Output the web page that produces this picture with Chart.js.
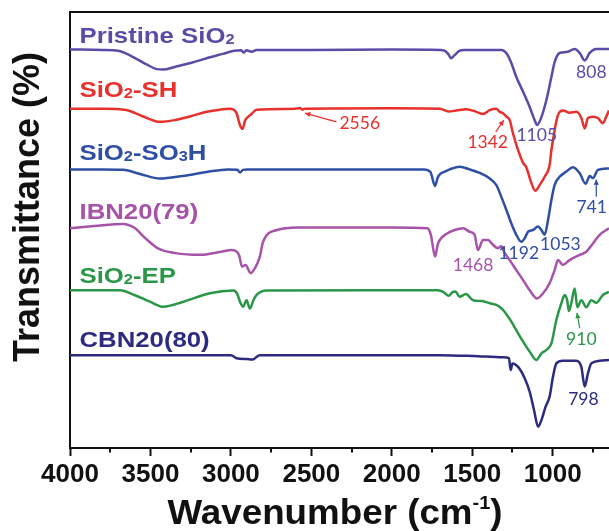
<!DOCTYPE html>
<html><head><meta charset="utf-8">
<script src="https://cdn.jsdelivr.net/npm/chart.js@4/dist/chart.umd.min.js"></script>
<style>html,body{margin:0;padding:0;background:#fff;overflow:hidden}</style>
</head><body>
<canvas id="c" width="609" height="531" style="display:block;width:609px;height:531px"></canvas>
<script>
// ---- data (wavenumber cm-1, transmittance a.u. with offsets as in figure) ----
const seriesNames = ['Pristine SiO_2', 'SiO_2-SH', 'SiO_2-SO_3H', 'IBN20(79)', 'SiO_2-EP', 'CBN20(80)'];

const pristineSiO2 = [[4000,91.4],[3800,91.3],[3700,91.1],[3620,89.9],[3540,88.3],[3460,86.9],[3420,86.8],[3350,87.4],[3250,88.3],[3150,89.4],[3050,90.4],[2980,91.1],[2935,91.2],[2920,90.7],[2905,91.2],[2870,90.9],[2840,91.3],[2500,91.3],[2000,91.4],[1700,91.3],[1670,91.1],[1650,90.4],[1632,89.4],[1610,90.1],[1580,91.1],[1550,91.3],[1319,91.3],[1288,90.6],[1257,88.3],[1226,85.1],[1184,81.7],[1143,78.2],[1112,75.2],[1097,74.1],[1070,75.9],[1039,79.8],[1008,85.1],[988,88.5],[957,90.6],[915,90.8],[863,91.5],[832,90.6],[801,88.9],[770,90.6],[729,91.5],[650,91.5]];

const sio2SH = [[4000,77.8],[3800,77.8],[3650,77.5],[3550,76.1],[3441,74.8],[3350,75.2],[3250,76.1],[3150,77.1],[3068,77.6],[3006,77.8],[2965,76.8],[2944,74.1],[2927,73.2],[2913,75.0],[2892,76.0],[2872,76.6],[2840,77.6],[2600,77.8],[2570,78.0],[2556,77.6],[2540,77.8],[2000,77.9],[1700,77.8],[1648,77.2],[1600,77.4],[1536,77.7],[1474,77.1],[1433,76.6],[1391,77.5],[1350,77.8],[1329,77.1],[1309,76.8],[1288,76.0],[1267,75.2],[1247,72.2],[1215,68.3],[1184,65.4],[1164,64.4],[1133,60.8],[1108,59.0],[1081,60.3],[1050,62.2],[1019,64.9],[1008,68.3],[988,72.9],[967,76.4],[936,77.4],[895,76.9],[853,77.1],[822,75.7],[801,73.3],[781,75.7],[750,76.0],[719,75.7],[688,74.5],[667,76.0],[650,77.4]];

const sio2SO3H = [[4000,63.9],[3800,63.9],[3671,63.8],[3560,62.8],[3442,61.8],[3300,62.4],[3150,63.3],[3018,63.9],[2960,63.8],[2942,63.2],[2925,63.8],[2900,63.9],[1800,63.9],[1760,63.3],[1731,60.1],[1715,62.0],[1700,62.8],[1671,63.4],[1640,63.9],[1578,64.5],[1516,63.9],[1454,63.1],[1391,61.8],[1350,60.3],[1319,57.6],[1288,54.6],[1257,51.5],[1226,48.9],[1195,47.3],[1174,48.1],[1153,49.6],[1122,50.0],[1091,50.8],[1070,50.0],[1050,48.9],[1029,52.3],[1008,56.9],[988,60.3],[957,62.2],[915,63.4],[874,64.4],[832,63.0],[795,60.6],[770,62.4],[750,61.9],[719,63.8],[650,64.1]];

const ibn20_79 = [[4000,50.4],[3850,50.9],[3671,51.4],[3600,50.5],[3540,48.4],[3453,45.8],[3344,44.7],[3192,44.3],[3062,45.0],[2996,45.4],[2950,44.3],[2931,41.6],[2909,42.0],[2877,40.1],[2850,41.3],[2820,43.9],[2801,47.2],[2714,50.0],[2583,50.6],[2000,50.6],[1779,50.4],[1757,48.9],[1731,43.9],[1715,46.6],[1702,47.7],[1661,49.1],[1609,50.0],[1557,50.4],[1516,49.6],[1485,48.9],[1465,45.4],[1433,47.7],[1402,47.7],[1371,46.6],[1340,45.8],[1320,46.3],[1298,44.7],[1267,43.1],[1226,40.8],[1184,38.5],[1143,36.2],[1097,34.3],[1060,35.5],[1019,37.8],[988,40.8],[967,43.1],[936,42.0],[895,43.1],[832,44.3],[791,45.0],[750,46.9],[708,48.9],[650,50.4]];

const sio2EP = [[4000,36.2],[3689,36.2],[3600,35.1],[3500,33.5],[3420,32.4],[3300,33.5],[3130,35.5],[2985,36.1],[2960,35.3],[2944,33.6],[2923,32.4],[2903,33.9],[2882,32.0],[2860,33.9],[2840,35.1],[2778,36.1],[2000,36.2],[1713,36.2],[1680,35.8],[1648,34.9],[1620,35.8],[1605,35.9],[1578,34.7],[1539,35.3],[1495,33.9],[1440,33.7],[1391,33.2],[1350,32.8],[1309,31.7],[1257,29.0],[1215,26.3],[1184,24.4],[1143,22.1],[1102,20.2],[1070,21.7],[1039,22.5],[1008,24.0],[977,29.4],[946,33.2],[925,35.1],[910,33.9],[899,31.4],[884,33.3],[863,36.6],[847,32.3],[822,33.9],[791,32.3],[760,33.9],[729,33.3],[688,35.1],[650,35.8]];

const cbn20_80 = [[4000,21.3],[3000,21.3],[2964,20.6],[2900,20.4],[2866,20.3],[2822,21.3],[1700,21.3],[1495,21.1],[1309,20.8],[1272,20.6],[1261,17.9],[1250,19.4],[1215,18.6],[1174,16.0],[1143,12.9],[1116,8.7],[1091,4.9],[1070,6.4],[1044,9.5],[1019,11.8],[998,16.4],[977,19.4],[936,20.0],[853,20.0],[822,18.6],[801,14.1],[781,17.1],[760,19.4],[708,20.0],[650,20.2]];

const allSeries = [pristineSiO2, sio2SH, sio2SO3H, ibn20_79, sio2EP, cbn20_80];

const majorTicks = [4000, 3500, 3000, 2500, 2000, 1500, 1000];
const minorTicks = [3750, 3250, 2750, 2250, 1750, 1250, 750];

// peak annotations: text, series index, text position (wavenumber, level), optional arrow
const peakTexts  = ['808', '2556', '1342', '1105', '741', '1192', '1053', '1468', '910', '798'];
const peakSeries = [0, 1, 1, 0, 2, 2, 2, 3, 4, 5];
const peakTextWn = [760, 2199, 1404, 1099, 758, 1211, 952, 1495, 822, 809];
const peakTextLv = [86.1, 74.5, 70.0, 71.6, 55.3, 44.7, 46.6, 42.0, 24.9, 11.2];
const peakArrows = [null, [2344,74.8,2540,76.8], [1354,72.5,1304,75.2], null, [729,57.6,729,61.6], null, null, null, [832,27.5,849,31.0], null];

// series name label anchors (wavenumber, level)
const nameWn = [3941, 3941, 3941, 3941, 3941, 3941];
const nameLv = [92.8, 80.6, 66.1, 52.6, 37.8, 23.2];

// ---- styles ----
const colors = ['#5b4ba7', '#e8302c', '#2f4fa4', '#a653a9', '#2a9748', '#2c2b80'];
const AX = '#111';
const FONT = '"Liberation Sans", Arial, sans-serif';

const datasets = allSeries.map((s, i) => ({
  label: seriesNames[i].replace(/_/g, ''),
  data: s.map(p => ({x: p[0], y: p[1]})),
  borderColor: colors[i],
  borderWidth: 2.5,
  pointRadius: 0,
  fill: false,
  cubicInterpolationMode: 'monotone'
}));

function drawRich(ctx, text, x, y, size, color, sx) {
  ctx.save();
  ctx.translate(x, y);
  ctx.scale(sx, 1);
  ctx.fillStyle = color;
  ctx.textBaseline = 'alphabetic';
  ctx.textAlign = 'left';
  let cx = 0;
  const parts = text.split(/(_\d)/).filter(t => t.length);
  for (const p of parts) {
    if (p[0] === '_') {
      ctx.font = 'bold ' + Math.round(size * 0.62) + 'px ' + FONT;
      ctx.fillText(p.slice(1), cx, 1);
      cx += ctx.measureText(p.slice(1)).width;
    } else {
      ctx.font = 'bold ' + size + 'px ' + FONT;
      ctx.fillText(p, cx, 0);
      cx += ctx.measureText(p).width;
    }
  }
  ctx.restore();
}

const decor = {
  id: 'decor',
  afterDraw(chart) {
    const {ctx, chartArea: ca, scales: {x, y}} = chart;
    ctx.save();
    // top frame line
    ctx.strokeStyle = AX; ctx.lineWidth = 2;
    ctx.beginPath(); ctx.moveTo(ca.left - 1, ca.top); ctx.lineTo(ca.right, ca.top); ctx.stroke();
    // minor ticks
    for (const v of minorTicks) {
      const px = Math.round(x.getPixelForValue(v));
      ctx.beginPath(); ctx.moveTo(px, ca.bottom); ctx.lineTo(px, ca.bottom + 4.5); ctx.stroke();
    }
    // y title
    ctx.save();
    ctx.fillStyle = AX; ctx.textAlign = 'center'; ctx.textBaseline = 'middle';
    ctx.font = 'bold 36px ' + FONT;
    ctx.translate(29, 207); ctx.rotate(-Math.PI / 2);
    ctx.fillText('Transmittance (%)', 0, 0);
    ctx.restore();
    // x title with superscript
    const main1 = 'Wavenumber (cm', sup = '-1', main2 = ')';
    const fs = 35;
    ctx.fillStyle = AX; ctx.textBaseline = 'alphabetic'; ctx.textAlign = 'left';
    ctx.font = 'bold ' + fs + 'px ' + FONT;
    const w1 = ctx.measureText(main1).width, w3 = ctx.measureText(main2).width;
    ctx.font = 'bold ' + Math.round(fs * 0.55) + 'px ' + FONT;
    const w2 = ctx.measureText(sup).width;
    const sx = 1.05;
    const total = (w1 + w2 + w3) * sx;
    const cxm = 335;
    ctx.translate(cxm - total / 2, 524);
    ctx.scale(sx, 1);
    ctx.font = 'bold ' + fs + 'px ' + FONT;
    ctx.fillText(main1, 0, 0);
    ctx.font = 'bold ' + Math.round(fs * 0.55) + 'px ' + FONT;
    ctx.fillText(sup, w1, -15);
    ctx.font = 'bold ' + fs + 'px ' + FONT;
    ctx.fillText(main2, w1 + w2, 0);
    ctx.restore();

    // series names
    seriesNames.forEach((n, i) => {
      drawRich(ctx, n, x.getPixelForValue(nameWn[i]), y.getPixelForValue(nameLv[i]), 22, colors[i], 1.17);
    });

    // peak annotations
    ctx.save();
    ctx.font = '17.5px Lato, "Open Sans", sans-serif';
    ctx.textAlign = 'center'; ctx.textBaseline = 'middle';
    peakTexts.forEach((t, i) => {
      const c = colors[peakSeries[i]];
      ctx.fillStyle = c;
      ctx.fillText(t, x.getPixelForValue(peakTextWn[i]), y.getPixelForValue(peakTextLv[i]));
      const a = peakArrows[i];
      if (a) {
        const x1 = x.getPixelForValue(a[0]), y1 = y.getPixelForValue(a[1]);
        const x2 = x.getPixelForValue(a[2]), y2 = y.getPixelForValue(a[3]);
        ctx.strokeStyle = c; ctx.lineWidth = 1.2;
        ctx.beginPath(); ctx.moveTo(x1, y1); ctx.lineTo(x2, y2); ctx.stroke();
        const ang = Math.atan2(y2 - y1, x2 - x1), L = 6, W = 0.45;
        ctx.beginPath();
        ctx.moveTo(x2, y2);
        ctx.lineTo(x2 - L * Math.cos(ang - W), y2 - L * Math.sin(ang - W));
        ctx.lineTo(x2 - L * Math.cos(ang + W), y2 - L * Math.sin(ang + W));
        ctx.closePath(); ctx.fill();
      }
    });
    ctx.restore();
  }
};

new Chart(document.getElementById('c'), {
  type: 'line',
  data: {datasets},
  plugins: [decor],
  options: {
    animation: false,
    responsive: false,
    devicePixelRatio: 1,
    layout: {padding: {top: 12, left: 8, right: 0, bottom: 0}},
    plugins: {legend: {display: false}, tooltip: {enabled: false}},
    scales: {
      x: {
        type: 'linear', reverse: true, min: 650, max: 4000,
        afterBuildTicks: s => { s.ticks = majorTicks.map(v => ({value: v})); },
        afterFit: s => { s.height = 83; },
        grid: {display: true, drawOnChartArea: false, drawTicks: true, tickLength: 8, tickWidth: 2, tickColor: AX},
        border: {display: true, color: AX, width: 2},
        ticks: {color: AX, padding: 3, maxRotation: 0, autoSkip: false,
                callback: v => String(v),
                font: {family: FONT, weight: 'bold', size: 26}}
      },
      y: {
        min: 0, max: 100,
        afterFit: s => { s.width = 62; },
        ticks: {display: false},
        grid: {display: false},
        border: {display: true, color: AX, width: 2},
        title: {display: false}
      }
    }
  }
});
</script>
</body></html>
